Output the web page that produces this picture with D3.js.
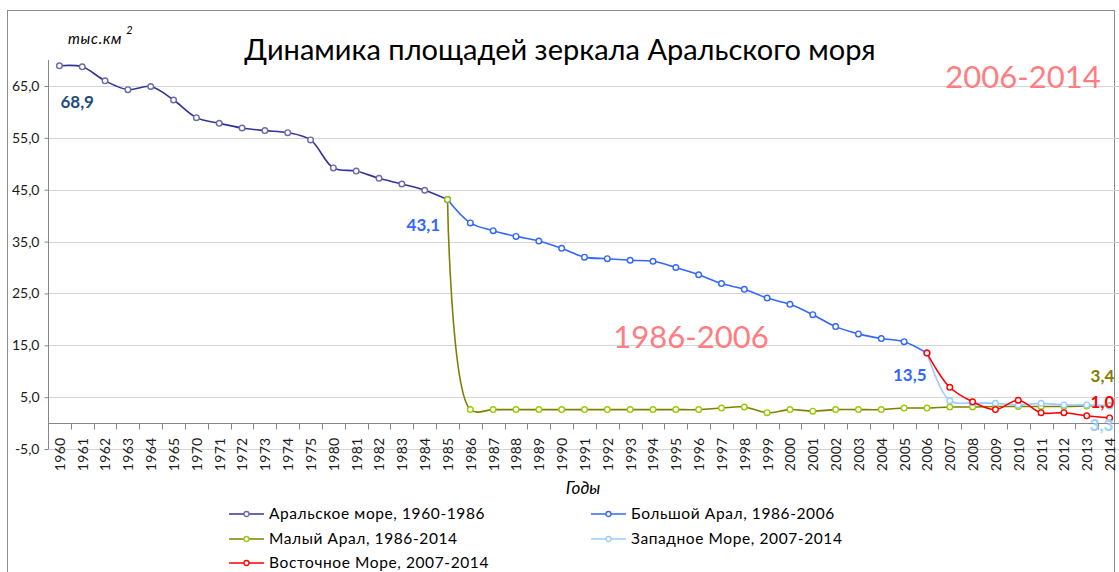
<!DOCTYPE html>
<html lang="ru">
<head>
<meta charset="UTF-8">
<style>
  body { margin: 0; background: #fff; overflow: hidden; }
  svg { display: block; font-family: Lato, "Open Sans", sans-serif; }
  .grid line { stroke: #d4d4d4; stroke-width: 1; }
  .axis path, .axis line { stroke: #868686; }
  .axis text { fill: #1a1a1a; font-size: 14px; font-family: Lato, sans-serif; }
</style>
</head>
<body>
<svg id="chart" width="1119" height="572"></svg>
<script src="https://cdn.jsdelivr.net/npm/d3@7"></script>
<script>
// categories (years as they appear on the axis)
const years = ["1960","1961","1962","1963","1964","1965","1970","1971","1972","1973","1974","1975",
  "1980","1981","1982","1983","1984","1985","1986","1987","1988","1989","1990","1991","1992","1993",
  "1994","1995","1996","1997","1998","1999","2000","2001","2002","2003","2004","2005","2006","2007",
  "2008","2009","2010","2011","2012","2013","2014"];

const n = null;
// Аральское море, 1960-1986
const aral = [68.9, 68.7, 66.0, 64.3, 64.9, 62.3, 58.9, 57.8, 56.9, 56.4, 56.0, 54.6,
  49.2, 48.6, 47.2, 46.1, 44.9, 43.1,
  n,n,n,n,n,n,n,n,n,n,n,n,n,n,n,n,n,n,n,n,n,n,n,n,n,n,n,n,n];
// Большой Арал, 1986-2006
const bolshoi = [n,n,n,n,n,n,n,n,n,n,n,n,n,n,n,n,n,
  43.1, 38.6, 37.1, 36.0, 35.1, 33.7, 32.0, 31.7, 31.4, 31.2, 30.0, 28.6, 26.9, 25.8, 24.1,
  22.9, 20.9, 18.6, 17.2, 16.3, 15.7, 13.5,
  n,n,n,n,n,n,n,n];
// Малый Арал, 1986-2014
const maly = [n,n,n,n,n,n,n,n,n,n,n,n,n,n,n,n,n,
  43.1, 2.6, 2.6, 2.6, 2.6, 2.6, 2.6, 2.6, 2.6, 2.6, 2.6, 2.6, 2.9, 3.1, 2.0,
  2.6, 2.3, 2.6, 2.6, 2.6, 2.9, 2.9, 3.1, 3.1, 3.2, 3.2, 3.2, 3.2, 3.3, 3.4];
// Западное Море, 2007-2014
const zapad = [n,n,n,n,n,n,n,n,n,n,n,n,n,n,n,n,n,n,n,n,n,n,n,n,n,n,n,n,n,n,n,n,n,n,n,n,n,n,
  13.5, 4.3, 3.9, 3.8, 3.5, 3.8, 3.5, 3.5, 3.3];
// Восточное Море, 2007-2014
const vostok = [n,n,n,n,n,n,n,n,n,n,n,n,n,n,n,n,n,n,n,n,n,n,n,n,n,n,n,n,n,n,n,n,n,n,n,n,n,n,
  13.5, 6.9, 4.1, 2.6, 4.4, 2.0, 2.0, 1.4, 1.0];

const yTicks = [-5, 5, 15, 25, 35, 45, 55, 65];

const series = [
  { name: "Аральское море, 1960-1986", values: aral,    line: "#333399", marker: "#6b6ba6" },
  { name: "Большой Арал, 1986-2006",   values: bolshoi, line: "#3366ff", marker: "#3366ff" },
  { name: "Малый Арал, 1986-2014",     values: maly,    line: "#808000", marker: "#99cc00" },
  { name: "Западное Море, 2007-2014",  values: zapad,   line: "#99ccff", marker: "#99ccff" },
  { name: "Восточное Море, 2007-2014", values: vostok,  line: "#ff0000", marker: "#ff0000" }
];

// data labels: [series index, year, text, dx, dy, colour]
const valueLabels = [
  [0, "1960", "68,9", 1,  42, "#1f4e79"],
  [1, "1985", "43,1", -41, 31, "#3366ff"],
  [1, "2006", "13,5", -34, 28, "#3366ff"],
  [2, "2014", "3,4",  -19, -23, "#808000"],
  [4, "2014", "1,0",  -19, -10, "#ff0000"],
  [3, "2014", "3,3",  -20, 25, "#99ccff"]
];

const svg = d3.select("#chart");

const left = 48, right = 1121;
const x = d3.scaleBand().domain(years).range([left, right]);
const y = d3.scaleLinear().domain([-5, 65]).range([449, 86]);
const cx = d => x(d) + x.bandwidth() / 2;

// outer frame
svg.append("rect")
  .attr("x", 7.5).attr("y", 10.5).attr("width", 1107).attr("height", 600)
  .attr("fill", "none").attr("stroke", "#8c8c8c");

// gridlines
svg.append("g").attr("class", "grid")
  .selectAll("line").data(yTicks).join("line")
  .attr("x1", left).attr("x2", 1119)
  .attr("y1", d => Math.round(y(d)) + 0.5).attr("y2", d => Math.round(y(d)) + 0.5);

// y axis
const yAxis = svg.append("g").attr("class", "axis")
  .attr("transform", `translate(${left + 0.5},0)`)
  .call(d3.axisLeft(y).tickValues(yTicks).tickSize(4).tickSizeOuter(0)
    .tickFormat(d => d3.format(".1f")(d).replace(".", ",").replace("−", "-")));
yAxis.select(".domain").attr("d", `M0,${y(70)}V${y(-5)}`);
yAxis.selectAll("text").attr("x", -9);

// x axis at zero
const y0 = Math.round(y(0)) + 0.5;
const xg = svg.append("g").attr("class", "axis");
xg.append("line").attr("x1", left).attr("x2", 1119).attr("y1", y0).attr("y2", y0);
xg.selectAll("line.tick").data(years.slice(1).concat(["end"])).join("line")
  .attr("class", "tick")
  .attr("x1", (d, i) => Math.round(left + (i + 1) * x.bandwidth()) + 0.5)
  .attr("x2", (d, i) => Math.round(left + (i + 1) * x.bandwidth()) + 0.5)
  .attr("y1", y0).attr("y2", y0 + 6);
xg.selectAll("text").data(years).join("text")
  .attr("transform", d => `translate(${cx(d) + 0.5},${y0 + 14}) rotate(-90)`)
  .attr("text-anchor", "end").attr("dy", "0.35em")
  .style("letter-spacing", "0.3px")
  .text(d => d);

// lines (smoothed like the spreadsheet chart)
const line = d3.line()
  .defined(d => d.v != null)
  .x(d => cx(d.year)).y(d => y(d.v))
  .curve(d3.curveCatmullRom.alpha(0.5));

series.forEach(s => {
  const pts = years.map((yr, i) => ({ year: yr, v: s.values[i] })).filter(d => d.v != null);
  svg.append("path").datum(pts)
    .attr("fill", "none").attr("stroke", s.line).attr("stroke-width", 1.6)
    .attr("d", line);
  svg.append("g").selectAll("circle").data(pts).join("circle")
    .attr("cx", d => cx(d.year)).attr("cy", d => y(d.v)).attr("r", 2.8)
    .attr("fill", "#fff").attr("stroke", s.marker).attr("stroke-width", 1.4);
});

// value labels
svg.append("g").selectAll("text").data(valueLabels).join("text")
  .attr("x", d => cx(d[1]) + d[3])
  .attr("y", d => y(series[d[0]].values[years.indexOf(d[1])]) + d[4])
  .attr("fill", d => d[5])
  .attr("font-size", 17).attr("font-weight", "bold")
  .text(d => d[2]);

// period annotations
svg.append("text").attr("x", 691).attr("y", 348).attr("text-anchor", "middle")
  .attr("font-size", 31).attr("fill", "#ff7c80").text("1986-2006");
svg.append("text").attr("x", 1023).attr("y", 88).attr("text-anchor", "middle")
  .attr("font-size", 31).attr("fill", "#ff7c80").text("2006-2014");

// title
svg.append("text").attr("x", 560).attr("y", 60).attr("text-anchor", "middle")
  .attr("font-size", 29).attr("fill", "#000")
  .text("Динамика площадей зеркала Аральского моря");

// unit label
const unit = svg.append("text").attr("x", 68).attr("y", 44)
  .attr("font-size", 15).attr("font-style", "italic").attr("fill", "#000")
  .style("letter-spacing", "0.8px");
unit.append("tspan").text("тыс.км");
unit.append("tspan").attr("dx", 4).attr("dy", -10).attr("font-size", 11).text("2");

// x axis title
svg.append("text").attr("x", 583).attr("y", 494).attr("text-anchor", "middle")
  .attr("font-size", 17).attr("font-style", "italic").attr("fill", "#000").text("Годы");

// legend
const legendPos = [[229, 514], [591, 514], [229, 539], [591, 539], [229, 563]];
const lg = svg.append("g").selectAll("g").data(series).join("g")
  .attr("transform", (d, i) => `translate(${legendPos[i][0]},${legendPos[i][1]})`);
lg.append("line").attr("x1", 0).attr("x2", 35).attr("stroke", d => d.line).attr("stroke-width", 1.6);
lg.append("circle").attr("cx", 17.5).attr("r", 2.5).attr("fill", "#fff")
  .attr("stroke", d => d.marker).attr("stroke-width", 1.3);
lg.append("text").attr("x", 40).attr("dy", "0.35em").attr("font-size", 15.5)
  .style("letter-spacing", "0.6px").attr("fill", "#000").text(d => d.name);
</script>
</body>
</html>
